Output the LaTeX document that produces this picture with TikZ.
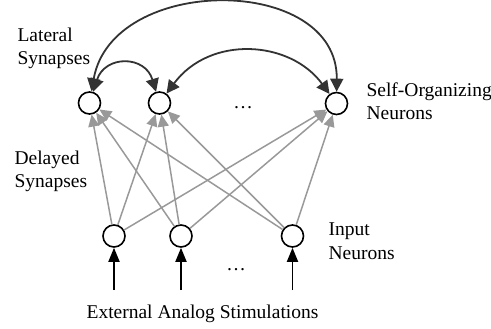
\documentclass[tikz,border=0pt]{standalone}
\usepackage{fontspec}
\setmainfont{Liberation Serif}
\usetikzlibrary{arrows.meta}
\begin{document}
\begin{tikzpicture}[x=1pt, y=-1pt,
    every node/.style={font=\fontsize{19.5}{23.5}\selectfont},
    neuron/.style={circle, draw=black, line width=1.6pt, minimum size=22pt, inner sep=0pt},
    label/.style={align=left, anchor=base west},
    delayed/.style={draw=black!40, line width=1.5pt, -{Triangle[length=12pt,width=11pt]}},
    lateral/.style={draw=black!80, line width=1.8pt, {Triangle[length=13pt,width=13pt]}-{Triangle[length=13pt,width=13pt]}},
    stimulus/.style={draw=black, line width=1.8pt, -{Triangle[length=14pt,width=11pt]}}]
  \useasboundingbox (0,0) rectangle (491,329);
  % self-organizing layer
  \node[neuron] (s1) at (89.5,103) {};
  \node[neuron] (s2) at (159.5,103) {};
  \node[neuron] (s3) at (336.5,103.5) {};
  \node (sdots) at (243,108) {\dots};
  % input layer
  \node[neuron] (i1) at (114,236) {};
  \node[neuron] (i2) at (181,236) {};
  \node[neuron] (i3) at (292.5,236) {};
  \node (idots) at (236,270) {\dots};
  % delayed synapses
  \draw[delayed] (i1) -- (s1);
  \draw[delayed] (i1) -- (s2);
  \draw[delayed] (i1) -- (s3);
  \draw[delayed] (i2) -- (s1);
  \draw[delayed] (i2) -- (s2);
  \draw[delayed] (i2) -- (s3);
  \draw[delayed] (i3) -- (s1);
  \draw[delayed] (i3) -- (s2);
  \draw[delayed] (i3) -- (s3);
  % lateral synapses
  \draw[lateral] (s1) .. controls (112,-26) and (338,-26) .. (s3);
  \draw[lateral] (s1) .. controls (105,55) and (145,55) .. (s2);
  \draw[lateral] (s2) .. controls (210,35) and (290,40) .. (s3);
  % external stimulations
  \coordinate (e1) at (114,290);
  \coordinate (e2) at (181,290);
  \coordinate (e3) at (292.5,290);
  \draw[stimulus] (e1) -- (i1);
  \draw[stimulus] (e2) -- (i2);
  \draw[stimulus] (e3) -- (i3);
  % labels (base = last line)
  \node[label] (lat) at (14,65) {Lateral\\Synapses};
  \node[label] (del) at (11,188) {Delayed\\Synapses};
  \node[label] (son) at (363,120) {Self-Organizing\\Neurons};
  \node[label] (inn) at (325,259) {Input\\Neurons};
  \node[anchor=base] (ext) at (202.5,318) {External Analog Stimulations};
\end{tikzpicture}
\end{document}
